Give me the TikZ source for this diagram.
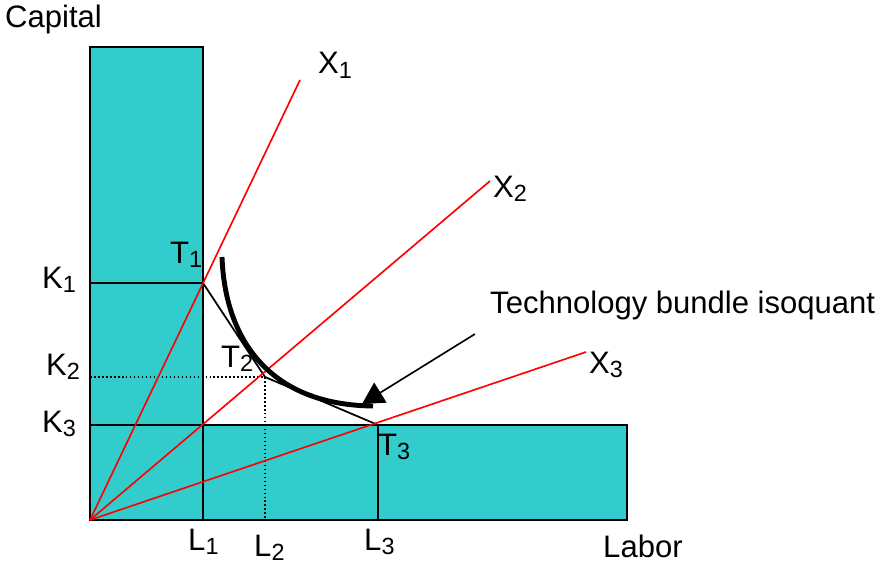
\documentclass[tikz,border=0pt]{standalone}
\usepackage{fontspec}
\setmainfont{Liberation Sans}
\usepackage{xcolor}
\usepackage{tikz}
\usetikzlibrary{arrows.meta,positioning}
\definecolor{barcyan}{HTML}{33CCCC}
\newcommand{\lbl}[2]{#1\raisebox{-0.13em}{\fontsize{20}{20}\selectfont #2}}
\tikzstyle{bar} = [draw=black, line width=1.5pt, fill=barcyan]
\tikzstyle{ray} = [draw=red, line width=1.4pt]
\tikzstyle{guide} = [draw=black, line width=1.5pt]
\tikzstyle{dotguide} = [draw=black, line width=1.4pt, dotted]
\tikzstyle{isoquant} = [draw=black, line width=4.2pt]
\tikzstyle{pointer} = [-{Triangle[length=6.5mm,width=7mm]}, line width=1.4pt]
\tikzstyle{tag} = [anchor=base west, inner sep=0pt, font=\fontsize{26.5}{30}\selectfont]

\begin{document}
\begin{tikzpicture}[x=0.03cm, y=-0.03cm]
\useasboundingbox (0,0) rectangle (889,564);
% points
\coordinate (O) at (90,520);
\coordinate (T1) at (203,283);
\coordinate (T2) at (265,377);
\coordinate (T3) at (378,425);
\coordinate (K1) at (90,283);
\coordinate (K2) at (90,377);
\coordinate (K3) at (90,425);
\coordinate (K3end) at (218,425);
\coordinate (L1) at (203,520);
\coordinate (L2) at (265,520);
\coordinate (L3) at (378,520);
\coordinate (X1end) at (300,80);
\coordinate (X2end) at (490,181);
\coordinate (X3end) at (586,352);
\coordinate (isostart) at (222,257);
\coordinate (isoend) at (373,406);
\coordinate (arrtail) at (475,334);
\coordinate (arrtip) at (362,404);

% bars
\draw[bar] (90,425) rectangle (627,520);
\draw[bar] (90,47) rectangle (203,520);

% guide lines
\draw[guide] (K1) -- (T1);
\draw[guide] (K3) -- (K3end);
\draw[guide] (T1) -- (L1);
\draw[guide] (T3) -- (L3);
\draw[dotguide] (K2) -- (T2);
\draw[dotguide] (T2) -- (L2);
\draw[guide] (T1) -- (T2) -- (T3);

% rays
\draw[ray] (O) -- (X1end);
\draw[ray] (O) -- (X2end);
\draw[ray] (O) -- (X3end);

% isoquant and pointer
\draw[isoquant] (isostart) .. controls (225,340) and (270,405) .. (isoend);
\draw[pointer] (arrtail) -- (arrtip);

% labels
\node[tag] (capital) at (5,28) {Capital};
\node[tag] (labor) at (603,557) {Labor};
\node[tag] (x1) at (318,74) {\lbl{X}{1}};
\node[tag] (x2) at (493,197) {\lbl{X}{2}};
\node[tag] (x3) at (589,373) {\lbl{X}{3}};
\node[tag] (t1) at (170,263) {\lbl{T}{1}};
\node[tag] (t2) at (221,367) {\lbl{T}{2}};
\node[tag] (t3) at (378,455) {\lbl{T}{3}};
\node[tag] (k1) at (42,288) {\lbl{K}{1}};
\node[tag] (k2) at (46,375) {\lbl{K}{2}};
\node[tag] (k3) at (42,432) {\lbl{K}{3}};
\node[tag] (l1) at (188,550) {\lbl{L}{1}};
\node[tag] (l2) at (254,556) {\lbl{L}{2}};
\node[tag] (l3) at (364,550) {\lbl{L}{3}};
\node[tag] (techlabel) at (490,313) {Technology bundle isoquant};
\end{tikzpicture}
\end{document}
